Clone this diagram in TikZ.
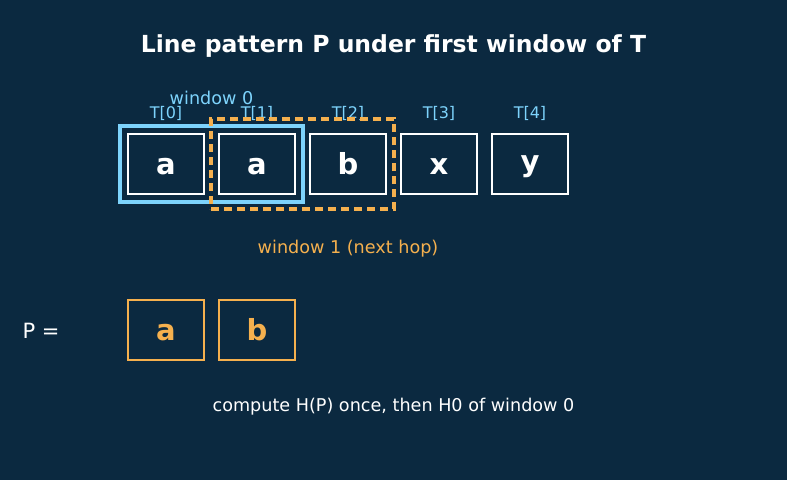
\documentclass[tikz,border=0pt]{standalone}
\usepackage{fontspec}
\setmainfont{DejaVu Sans}
\definecolor{bgnavy}{HTML}{0B2940}
\definecolor{winblue}{HTML}{7DD3FC}
\definecolor{hoporange}{HTML}{F5B04E}
\tikzset{
  every path/.style={semithick},
  cell/.style={draw=white, line width=2.2pt, minimum width=76pt, minimum height=60pt,
    inner sep=0pt, text=white, font=\bfseries\fontsize{29}{29}\selectfont},
  pcell/.style={cell, draw=hoporange, text=hoporange},
  idx/.style={text=winblue, font=\fontsize{16}{16}\selectfont},
  note/.style={font=\fontsize{17.6}{17.6}\selectfont}
}

\begin{document}
\begin{tikzpicture}[x=1pt, y=-1pt]
    \fill[bgnavy] (0,0) rectangle (787,480);
    \useasboundingbox (0,0) rectangle (787,480);

    \node[text=white, font=\bfseries\fontsize{23.5}{23.5}\selectfont] (title) at (393.5,46) {Line pattern P under first window of T};

    % text cells and their indices
    \foreach \ch [count=\i from 0] in {a,a,b,x,y} {
      \node[cell] (t\i) at (166+91*\i,164) {\vphantom{b}\ch};
      \node[idx] (lbl\i) at (166+91*\i,113) {T[\i]};
    }

    % window 0 and the next hop
    \node[draw=winblue, line width=3.8pt, minimum width=183pt, minimum height=76pt, inner sep=0pt] (win0) at (211.5,164) {};
    \node[text=winblue, note] (win0lbl) at (211.5,98) {window 0};

    \node[draw=hoporange, line width=3.2pt, dash pattern=on 8pt off 5pt, minimum width=183pt, minimum height=90pt, inner sep=0pt] (win1) at (302.5,164) {};
    \node[text=hoporange, note] (win1lbl) at (348,249) {window 1 (next hop)};

    % pattern
    \node[text=white, font=\fontsize{21}{21}\selectfont] (peq) at (41,331) {P =};
    \node[pcell] (p0) at (166,330) {\vphantom{b}a};
    \node[pcell] (p1) at (257,330) {\vphantom{b}b};

    \node[text=white, note] (hashnote) at (393.5,407) {compute H(P) once, then H0 of window 0};
  \end{tikzpicture}
\end{document}
